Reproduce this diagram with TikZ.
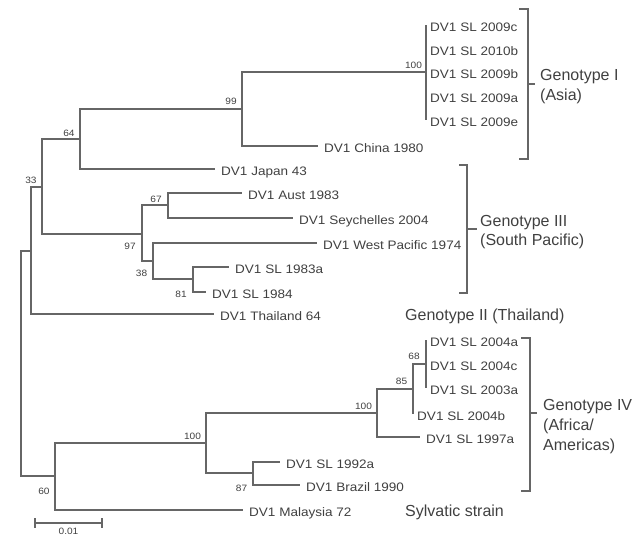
\documentclass[tikz,border=0pt]{standalone}
\usepackage{fontspec}
\setmainfont{Liberation Sans}
\newfontfamily\leaffont{Liberation Sans}[FakeStretch=1.1]
\definecolor{branch}{HTML}{666666}
\definecolor{txt}{HTML}{404040}
\tikzset{
  br/.style={draw=branch, line width=1.3pt},
  leaf/.style={anchor=west, inner xsep=6pt, inner ysep=0pt, text height=12.8pt, text depth=0pt,
    font=\leaffont\fontsize{12.3}{14}\selectfont, text=txt},
  leafz/.style={leaf, inner xsep=4pt},
  boot/.style={inner sep=0pt, text height=6.6pt, text depth=0pt,
    font=\leaffont\fontsize{9.2}{11}\selectfont, text=txt},
  geno/.style={anchor=west, inner sep=0pt, text height=11.4pt, text depth=0pt,
    font=\fontsize{16}{19}\selectfont, text=txt},
}
\begin{document}
\begin{tikzpicture}[x=1pt,y=-1pt]
\useasboundingbox (0,0) rectangle (642,536);
% internal nodes
\coordinate (root) at (21,363.5);
\coordinate (nA) at (31,251);
\coordinate (n33) at (42,187);
\coordinate (n64) at (80,139);
\coordinate (n99) at (242,109);
\coordinate (n100a) at (426,72);
\coordinate (n97) at (142,234);
\coordinate (n67) at (168,205);
\coordinate (n38) at (153,261);
\coordinate (n81) at (193,279);
\coordinate (n60) at (55,476);
\coordinate (n100b) at (206,443);
\coordinate (n87) at (253,473);
\coordinate (n100c) at (377,413);
\coordinate (n85) at (413,389);
\coordinate (n68) at (426,364);
% leaves
\node[leafz] (l2009c) at (426,25) {DV1 SL 2009c};
\node[leafz] (l2010b) at (426,49) {DV1 SL 2010b};
\node[leafz] (l2009b) at (426,72) {DV1 SL 2009b};
\node[leafz] (l2009a) at (426,96) {DV1 SL 2009a};
\node[leafz] (l2009e) at (426,120) {DV1 SL 2009e};
\node[leaf] (china) at (318,146) {DV1 China 1980};
\node[leaf] (japan) at (215,169) {DV1 Japan 43};
\node[leaf] (aust) at (242,193) {DV1 Aust 1983};
\node[leaf] (seych) at (293,218) {DV1 Seychelles 2004};
\node[leaf] (westpac) at (317,243) {DV1 West Pacific 1974};
\node[leaf] (sl1983a) at (229,267) {DV1 SL 1983a};
\node[leaf] (sl1984) at (206,292) {DV1 SL 1984};
\node[leaf] (thai) at (214,314) {DV1 Thailand 64};
\node[leafz] (sl2004a) at (426,340) {DV1 SL 2004a};
\node[leafz] (sl2004c) at (426,364) {DV1 SL 2004c};
\node[leafz] (sl2003a) at (426,388) {DV1 SL 2003a};
\node[leafz] (sl2004b) at (413,414) {DV1 SL 2004b};
\node[leaf] (sl1997a) at (420,437) {DV1 SL 1997a};
\node[leaf] (sl1992a) at (280,462) {DV1 SL 1992a};
\node[leaf] (brazil) at (300,485) {DV1 Brazil 1990};
\node[leaf] (malay) at (243,510) {DV1 Malaysia 72};
% branches
\draw[br] (root) |- (nA);
\draw[br] (root) |- (n60);
\draw[br] (nA) |- (n33);
\draw[br] (nA) |- (thai.west);
\draw[br] (n33) |- (n64);
\draw[br] (n33) |- (n97);
\draw[br] (n64) |- (n99);
\draw[br] (n64) |- (japan.west);
\draw[br] (n99) |- (n100a);
\draw[br] (n99) |- (china.west);
\draw[br] (n100a) |- (l2009c.west);
\draw[br] (n100a) |- (l2010b.west);
\draw[br] (n100a) |- (l2009b.west);
\draw[br] (n100a) |- (l2009a.west);
\draw[br] (n100a) |- (l2009e.west);
\draw[br] (n97) |- (n67);
\draw[br] (n97) |- (n38);
\draw[br] (n67) |- (aust.west);
\draw[br] (n67) |- (seych.west);
\draw[br] (n38) |- (westpac.west);
\draw[br] (n38) |- (n81);
\draw[br] (n81) |- (sl1983a.west);
\draw[br] (n81) |- (sl1984.west);
\draw[br] (n60) |- (n100b);
\draw[br] (n60) |- (malay.west);
\draw[br] (n100b) |- (n100c);
\draw[br] (n100b) |- (n87);
\draw[br] (n87) |- (sl1992a.west);
\draw[br] (n87) |- (brazil.west);
\draw[br] (n100c) |- (n85);
\draw[br] (n100c) |- (sl1997a.west);
\draw[br] (n85) |- (n68);
\draw[br] (n85) |- (sl2004b.west);
\draw[br] (n68) |- (sl2004a.west);
\draw[br] (n68) |- (sl2004c.west);
\draw[br] (n68) |- (sl2003a.west);
% bootstrap values
\node[boot] (b33) at (31,180.5) {33};
\node[boot] (b64) at (69,133) {64};
\node[boot] (b99) at (231,101) {99};
\node[boot] (b100a) at (413.5,65) {100};
\node[boot] (b67) at (156,199.5) {67};
\node[boot] (b97) at (130,246.5) {97};
\node[boot] (b38) at (141.5,273.5) {38};
\node[boot] (b81) at (181,294) {81};
\node[boot] (b60) at (44,491) {60};
\node[boot] (b100b) at (192.5,436.5) {100};
\node[boot] (b87) at (241.5,488) {87};
\node[boot] (b100c) at (363.5,406.5) {100};
\node[boot] (b85) at (401.5,381.5) {85};
\node[boot] (b68) at (414,356.5) {68};
% brackets
\draw[br] (519,9) -| (528,159) -- (519,159);
\draw[br] (528,84) -- (535,84);
\draw[br] (459,165) -| (467,293) -- (459,293);
\draw[br] (467,229) -- (477,229);
\draw[br] (521,338) -| (530,491) -- (521,491);
\draw[br] (530,413) -- (537,413);
% genotype labels
\node[geno] (g1a) at (540,75) {Genotype I};
\node[geno] (g1b) at (540,95) {(Asia)};
\node[geno] (g3a) at (480,221) {Genotype III};
\node[geno] (g3b) at (480,240) {(South Pacific)};
\node[geno] (g2) at (405,315) {Genotype II (Thailand)};
\node[geno] (g4a) at (543,405) {Genotype IV};
\node[geno] (g4b) at (543,425) {(Africa/};
\node[geno] (g4c) at (543,445) {Americas)};
\node[geno] (sylv) at (405,511) {Sylvatic strain};
% scale bar
\draw[br] (35,518) -- (35,528);
\draw[br] (102,518) -- (102,528);
\draw[br] (35,523) -- (102,523);
\node[boot] (scale) at (68.5,531.5) {0.01};
\end{tikzpicture}
\end{document}
